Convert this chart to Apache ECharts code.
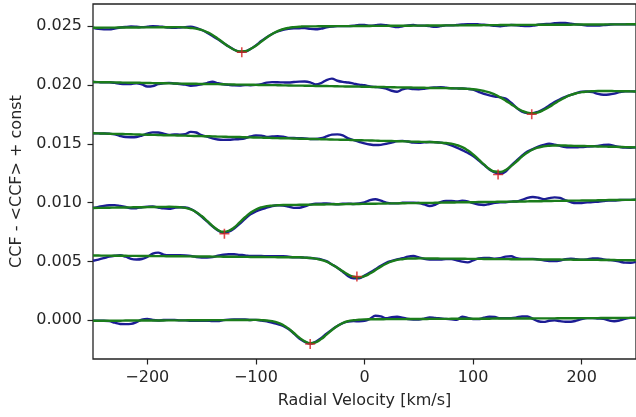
<!DOCTYPE html>
<html>
<head>
<meta charset="utf-8">
<script src="https://cdn.jsdelivr.net/npm/echarts@6/dist/echarts.min.js"></script>
<style>
html,body{margin:0;padding:0;background:#fff;}
#chart{width:636px;height:417px;}
</style>
</head>
<body>
<div id="chart"></div>
<script>
// Radial velocity grid [km/s]
var vel = [-250,-245,-240,-235,-230,-225,-220,-215,-210,-205,-200,-195,-190,-185,-180,-175,-170,-165,-160,-155,-150,-145,-140,-135,-130,-125,-120,-115,-110,-105,-100,-95,-90,-85,-80,-75,-70,-65,-60,-55,-50,-45,-40,-35,-30,-25,-20,-15,-10,-5,0,5,10,15,20,25,30,35,40,45,50,55,60,65,70,75,80,85,90,95,100,105,110,115,120,125,130,135,140,145,150,155,160,165,170,175,180,185,190,195,200,205,210,215,220,225,230,235,240,245,250];

// CCF traces (blue) and fits (green), offset by a constant
var ccf1 = [0.02488,0.02478,0.02474,0.02474,0.02481,0.02490,0.02495,0.02498,0.02496,0.02493,0.02496,0.02501,0.02500,0.02495,0.02489,0.02487,0.02490,0.02493,0.02496,0.02486,0.02469,0.02446,0.02419,0.02390,0.02359,0.02328,0.02301,0.02284,0.02286,0.02307,0.02338,0.02375,0.02408,0.02435,0.02456,0.02471,0.02479,0.02483,0.02484,0.02485,0.02478,0.02475,0.02481,0.02491,0.02498,0.02502,0.02502,0.02502,0.02505,0.02511,0.02511,0.02506,0.02509,0.02514,0.02509,0.02500,0.02493,0.02500,0.02508,0.02511,0.02506,0.02506,0.02502,0.02495,0.02502,0.02508,0.02508,0.02511,0.02516,0.02519,0.02519,0.02517,0.02513,0.02510,0.02504,0.02501,0.02506,0.02511,0.02509,0.02504,0.02502,0.02506,0.02513,0.02518,0.02521,0.02526,0.02529,0.02529,0.02522,0.02517,0.02512,0.02507,0.02506,0.02506,0.02510,0.02514,0.02517,0.02517,0.02517,0.02518,0.02518];
var fit1 = [0.02488,0.02488,0.02489,0.02489,0.02489,0.02490,0.02490,0.02490,0.02490,0.02491,0.02491,0.02491,0.02492,0.02492,0.02492,0.02493,0.02493,0.02490,0.02486,0.02480,0.02469,0.02451,0.02427,0.02395,0.02361,0.02328,0.02301,0.02287,0.02289,0.02307,0.02335,0.02370,0.02405,0.02435,0.02459,0.02476,0.02487,0.02493,0.02496,0.02500,0.02500,0.02500,0.02501,0.02501,0.02501,0.02502,0.02502,0.02502,0.02502,0.02503,0.02503,0.02503,0.02504,0.02504,0.02504,0.02505,0.02505,0.02505,0.02505,0.02506,0.02506,0.02506,0.02507,0.02507,0.02507,0.02508,0.02508,0.02508,0.02508,0.02509,0.02509,0.02509,0.02510,0.02510,0.02510,0.02511,0.02511,0.02511,0.02511,0.02512,0.02512,0.02512,0.02513,0.02513,0.02513,0.02514,0.02514,0.02514,0.02514,0.02515,0.02515,0.02515,0.02516,0.02516,0.02516,0.02517,0.02517,0.02517,0.02517,0.02518,0.02518];

var ccf2 = [0.02026,0.02025,0.02024,0.02024,0.02019,0.02011,0.02008,0.02009,0.02016,0.02006,0.01988,0.01992,0.02008,0.02016,0.02019,0.02014,0.02009,0.02004,0.01995,0.01998,0.02006,0.02017,0.02029,0.02016,0.02007,0.02002,0.01998,0.01997,0.02000,0.01999,0.02002,0.02009,0.02021,0.02025,0.02024,0.02023,0.02022,0.02026,0.02030,0.02031,0.02024,0.02006,0.02017,0.02043,0.02055,0.02037,0.02027,0.02022,0.02013,0.02004,0.01999,0.01989,0.01984,0.01980,0.01970,0.01952,0.01943,0.01963,0.01972,0.01966,0.01965,0.01969,0.01976,0.01980,0.01983,0.01978,0.01973,0.01972,0.01971,0.01968,0.01961,0.01942,0.01925,0.01913,0.01903,0.01896,0.01885,0.01850,0.01807,0.01774,0.01762,0.01761,0.01773,0.01796,0.01827,0.01856,0.01879,0.01900,0.01916,0.01931,0.01944,0.01945,0.01940,0.01925,0.01918,0.01920,0.01928,0.01940,0.01948,0.01947,0.01946];
var fit2 = [0.02026,0.02025,0.02024,0.02024,0.02023,0.02022,0.02021,0.02020,0.02020,0.02019,0.02018,0.02017,0.02016,0.02016,0.02015,0.02014,0.02013,0.02012,0.02012,0.02011,0.02010,0.02009,0.02008,0.02008,0.02007,0.02006,0.02005,0.02004,0.02004,0.02003,0.02002,0.02001,0.02000,0.02000,0.01999,0.01998,0.01997,0.01996,0.01996,0.01995,0.01994,0.01993,0.01992,0.01992,0.01991,0.01990,0.01989,0.01988,0.01988,0.01987,0.01986,0.01985,0.01984,0.01984,0.01983,0.01982,0.01981,0.01980,0.01980,0.01979,0.01978,0.01977,0.01976,0.01976,0.01975,0.01974,0.01973,0.01972,0.01971,0.01968,0.01965,0.01959,0.01950,0.01938,0.01920,0.01896,0.01868,0.01837,0.01807,0.01782,0.01766,0.01761,0.01769,0.01788,0.01814,0.01843,0.01871,0.01896,0.01916,0.01931,0.01940,0.01945,0.01948,0.01950,0.01950,0.01950,0.01949,0.01948,0.01948,0.01947,0.01946];

var ccf3 = [0.01590,0.01589,0.01588,0.01586,0.01581,0.01567,0.01558,0.01557,0.01559,0.01571,0.01586,0.01598,0.01597,0.01587,0.01577,0.01580,0.01579,0.01583,0.01602,0.01597,0.01574,0.01561,0.01547,0.01537,0.01534,0.01535,0.01538,0.01541,0.01548,0.01563,0.01571,0.01570,0.01560,0.01563,0.01566,0.01561,0.01551,0.01550,0.01548,0.01547,0.01542,0.01541,0.01548,0.01563,0.01579,0.01581,0.01573,0.01547,0.01532,0.01518,0.01505,0.01495,0.01490,0.01492,0.01500,0.01511,0.01523,0.01526,0.01520,0.01511,0.01510,0.01513,0.01516,0.01514,0.01511,0.01503,0.01488,0.01469,0.01447,0.01424,0.01397,0.01360,0.01321,0.01283,0.01257,0.01245,0.01265,0.01315,0.01358,0.01399,0.01434,0.01456,0.01477,0.01492,0.01501,0.01494,0.01483,0.01473,0.01471,0.01470,0.01474,0.01477,0.01480,0.01482,0.01490,0.01493,0.01483,0.01474,0.01468,0.01467,0.01470];
var fit3 = [0.01590,0.01589,0.01588,0.01586,0.01585,0.01584,0.01583,0.01582,0.01580,0.01579,0.01578,0.01577,0.01576,0.01574,0.01573,0.01572,0.01571,0.01570,0.01568,0.01567,0.01566,0.01565,0.01564,0.01562,0.01561,0.01560,0.01559,0.01558,0.01556,0.01555,0.01554,0.01553,0.01552,0.01550,0.01549,0.01548,0.01547,0.01546,0.01544,0.01543,0.01542,0.01541,0.01540,0.01538,0.01537,0.01536,0.01535,0.01534,0.01532,0.01531,0.01530,0.01529,0.01528,0.01526,0.01525,0.01524,0.01523,0.01522,0.01520,0.01519,0.01518,0.01517,0.01516,0.01514,0.01511,0.01507,0.01501,0.01490,0.01472,0.01445,0.01410,0.01368,0.01325,0.01287,0.01265,0.01262,0.01278,0.01311,0.01350,0.01391,0.01426,0.01452,0.01469,0.01479,0.01484,0.01486,0.01487,0.01486,0.01484,0.01483,0.01482,0.01481,0.01480,0.01478,0.01477,0.01476,0.01475,0.01474,0.01472,0.01471,0.01470];

var ccf4 = [0.00955,0.00964,0.00973,0.00978,0.00979,0.00972,0.00963,0.00952,0.00953,0.00961,0.00966,0.00967,0.00959,0.00951,0.00948,0.00956,0.00961,0.00959,0.00946,0.00919,0.00882,0.00841,0.00798,0.00764,0.00744,0.00753,0.00781,0.00819,0.00863,0.00901,0.00925,0.00943,0.00957,0.00971,0.00978,0.00976,0.00967,0.00956,0.00957,0.00969,0.00983,0.00992,0.00992,0.00993,0.00990,0.00987,0.00991,0.00992,0.00989,0.00993,0.01003,0.01021,0.01029,0.01017,0.01001,0.00994,0.00994,0.00999,0.01000,0.01000,0.00997,0.00985,0.00971,0.00982,0.01004,0.01014,0.01014,0.01010,0.01016,0.01011,0.00996,0.00984,0.00980,0.00989,0.00999,0.01004,0.01004,0.01009,0.01010,0.01023,0.01041,0.01048,0.01042,0.01030,0.01039,0.01045,0.01040,0.01020,0.01004,0.00996,0.00997,0.01002,0.01006,0.01007,0.01013,0.01018,0.01018,0.01023,0.01024,0.01024,0.01025];
var fit4 = [0.00955,0.00956,0.00956,0.00957,0.00958,0.00959,0.00959,0.00960,0.00961,0.00961,0.00962,0.00963,0.00963,0.00964,0.00965,0.00964,0.00961,0.00955,0.00942,0.00919,0.00886,0.00845,0.00802,0.00768,0.00752,0.00761,0.00789,0.00832,0.00876,0.00914,0.00942,0.00960,0.00970,0.00975,0.00978,0.00980,0.00980,0.00981,0.00982,0.00982,0.00983,0.00984,0.00984,0.00985,0.00986,0.00987,0.00987,0.00988,0.00989,0.00989,0.00990,0.00991,0.00991,0.00992,0.00993,0.00994,0.00994,0.00995,0.00996,0.00996,0.00997,0.00998,0.00998,0.00999,0.01000,0.01001,0.01001,0.01002,0.01003,0.01003,0.01004,0.01005,0.01005,0.01006,0.01007,0.01008,0.01008,0.01009,0.01010,0.01010,0.01011,0.01012,0.01012,0.01013,0.01014,0.01015,0.01015,0.01016,0.01017,0.01017,0.01018,0.01019,0.01019,0.01020,0.01021,0.01022,0.01022,0.01023,0.01024,0.01024,0.01025];

var ccf5 = [0.00506,0.00516,0.00528,0.00541,0.00548,0.00552,0.00540,0.00522,0.00517,0.00521,0.00538,0.00567,0.00575,0.00558,0.00552,0.00552,0.00552,0.00551,0.00547,0.00538,0.00534,0.00534,0.00537,0.00549,0.00557,0.00561,0.00561,0.00556,0.00552,0.00546,0.00546,0.00546,0.00545,0.00545,0.00544,0.00544,0.00540,0.00535,0.00535,0.00532,0.00529,0.00524,0.00517,0.00502,0.00474,0.00447,0.00412,0.00375,0.00357,0.00356,0.00379,0.00405,0.00433,0.00463,0.00488,0.00504,0.00517,0.00527,0.00541,0.00546,0.00534,0.00522,0.00517,0.00517,0.00516,0.00520,0.00520,0.00510,0.00498,0.00492,0.00509,0.00526,0.00529,0.00529,0.00524,0.00528,0.00541,0.00544,0.00527,0.00522,0.00522,0.00522,0.00517,0.00509,0.00503,0.00503,0.00508,0.00519,0.00523,0.00518,0.00514,0.00518,0.00526,0.00526,0.00516,0.00512,0.00508,0.00498,0.00490,0.00489,0.00497];
var fit5 = [0.00550,0.00550,0.00549,0.00549,0.00548,0.00548,0.00548,0.00547,0.00547,0.00546,0.00546,0.00546,0.00545,0.00545,0.00544,0.00544,0.00544,0.00543,0.00543,0.00542,0.00542,0.00542,0.00541,0.00541,0.00540,0.00540,0.00540,0.00539,0.00539,0.00538,0.00538,0.00538,0.00537,0.00537,0.00536,0.00536,0.00536,0.00535,0.00535,0.00532,0.00529,0.00524,0.00513,0.00498,0.00474,0.00447,0.00416,0.00388,0.00370,0.00364,0.00375,0.00397,0.00425,0.00455,0.00480,0.00500,0.00513,0.00519,0.00524,0.00525,0.00526,0.00526,0.00525,0.00525,0.00524,0.00524,0.00524,0.00523,0.00523,0.00522,0.00522,0.00522,0.00521,0.00521,0.00520,0.00520,0.00520,0.00519,0.00519,0.00518,0.00518,0.00518,0.00517,0.00517,0.00516,0.00516,0.00516,0.00515,0.00515,0.00514,0.00514,0.00514,0.00513,0.00513,0.00512,0.00512,0.00512,0.00511,0.00511,0.00510,0.00510];

var ccf6 = [-0.00005,-0.00005,-0.00004,-0.00008,-0.00021,-0.00032,-0.00033,-0.00031,-0.00016,0.00005,0.00011,0.00002,-0.00002,0.00002,0.00003,0.00003,-0.00001,-0.00001,-0.00004,-0.00004,-0.00004,-0.00004,-0.00007,-0.00007,0.00001,0.00005,0.00006,0.00006,0.00006,0.00002,0.00003,-0.00003,-0.00010,-0.00021,-0.00033,-0.00049,-0.00075,-0.00113,-0.00156,-0.00184,-0.00199,-0.00184,-0.00153,-0.00115,-0.00080,-0.00050,-0.00024,-0.00012,-0.00008,-0.00009,-0.00006,0.00012,0.00038,0.00033,0.00017,0.00026,0.00030,0.00022,0.00010,0.00006,0.00006,0.00014,0.00024,0.00019,0.00015,0.00011,0.00008,0.00004,0.00029,0.00020,0.00009,0.00009,0.00021,0.00030,0.00027,0.00018,0.00018,0.00018,0.00023,0.00032,0.00032,0.00011,-0.00009,-0.00014,-0.00005,-0.00001,-0.00008,-0.00013,-0.00013,-0.00004,0.00010,0.00018,0.00018,0.00014,0.00011,-0.00002,-0.00009,-0.00002,0.00012,0.00020,0.00020];
var fit6 = [-0.00005,-0.00005,-0.00004,-0.00004,-0.00004,-0.00004,-0.00003,-0.00003,-0.00003,-0.00003,-0.00002,-0.00002,-0.00002,-0.00002,-0.00001,-0.00001,-0.00001,-0.00001,0.00000,0.00000,0.00000,0.00000,0.00001,0.00001,0.00001,0.00001,0.00002,0.00002,0.00002,0.00002,0.00003,0.00001,-0.00002,-0.00008,-0.00020,-0.00041,-0.00071,-0.00109,-0.00148,-0.00180,-0.00195,-0.00188,-0.00161,-0.00123,-0.00084,-0.00050,-0.00024,-0.00008,0.00000,0.00004,0.00007,0.00008,0.00008,0.00008,0.00009,0.00009,0.00009,0.00009,0.00010,0.00010,0.00010,0.00010,0.00011,0.00011,0.00011,0.00011,0.00012,0.00012,0.00012,0.00012,0.00013,0.00013,0.00013,0.00013,0.00014,0.00014,0.00014,0.00014,0.00015,0.00015,0.00015,0.00015,0.00016,0.00016,0.00016,0.00016,0.00017,0.00017,0.00017,0.00017,0.00018,0.00018,0.00018,0.00018,0.00019,0.00019,0.00019,0.00019,0.00020,0.00020,0.00020];

// Minimum positions (red crosses)
var minVel = [-113, 154, 123, -129, -7, -50];
var minVal = [0.02280, 0.01752, 0.01240, 0.00735, 0.00372, -0.00203];

// Tick labels
var xTicks = [-200, -100, 0, 100, 200];
var yTicks = [0.000, 0.005, 0.010, 0.015, 0.020, 0.025];

var ccfs = [ccf1, ccf2, ccf3, ccf4, ccf5, ccf6];
var fits = [fit1, fit2, fit3, fit4, fit5, fit6];

function pairs(arr) { return vel.map(function (v, i) { return [v, arr[i]]; }); }

var FONT = 'DejaVu Sans';
var TXT = '#262626';
var series = [];
ccfs.forEach(function (a) {
  series.push({ type: 'line', data: pairs(a), showSymbol: false, smooth: 0.35,
    lineStyle: { color: '#1c1c94', width: 2.4 }, silent: true, z: 2 });
});
fits.forEach(function (a) {
  series.push({ type: 'line', data: pairs(a), showSymbol: false, smooth: 0.5,
    lineStyle: { color: '#1b7c1b', width: 2.4 }, silent: true, z: 3 });
});
series.push({ type: 'scatter', data: minVel.map(function (v, i) { return [v, minVal[i]]; }),
  symbol: 'path://M4.2,0H5.8V4.2H10V5.8H5.8V10H4.2V5.8H0V4.2H4.2Z', symbolSize: 10,
  itemStyle: { color: '#d42020' }, silent: true, z: 4 });

var chart = echarts.init(document.getElementById('chart'), null, { renderer: 'canvas' });
chart.setOption({
  animation: false,
  backgroundColor: '#fff',
  grid: { left: 93, top: 4, width: 546, height: 355, show: true, borderColor: '#222', borderWidth: 1.3, containLabel: false },
  xAxis: {
    type: 'value', min: -250, max: 250,
    name: 'Radial Velocity [km/s]', nameLocation: 'middle', nameGap: 34,
    nameTextStyle: { fontFamily: FONT, fontSize: 16, color: TXT },
    axisLine: { show: false, onZero: false },
    axisTick: { show: true, inside: false, length: 5.5, customValues: xTicks, lineStyle: { color: '#222', width: 1.2 } },
    axisLabel: { show: true, margin: 11, customValues: xTicks, fontFamily: FONT, fontSize: 16, color: TXT,
      formatter: function (v) { return v < 0 ? '\u2212' + Math.abs(v) : String(v); } },
    splitLine: { show: false }
  },
  yAxis: {
    type: 'value', min: -0.0033, max: 0.0269,
    name: 'CCF - <CCF> + const', nameLocation: 'middle', nameGap: 64, nameRotate: 90,
    nameTextStyle: { fontFamily: FONT, fontSize: 16, color: TXT },
    axisLine: { show: false, onZero: false },
    axisTick: { show: true, inside: false, length: 5.5, customValues: yTicks, lineStyle: { color: '#222', width: 1.2 } },
    axisLabel: { show: true, margin: 11, customValues: yTicks, fontFamily: FONT, fontSize: 16, color: TXT,
      formatter: function (v) { return v.toFixed(3); } },
    splitLine: { show: false }
  },
  series: series
});
</script>
</body>
</html>
